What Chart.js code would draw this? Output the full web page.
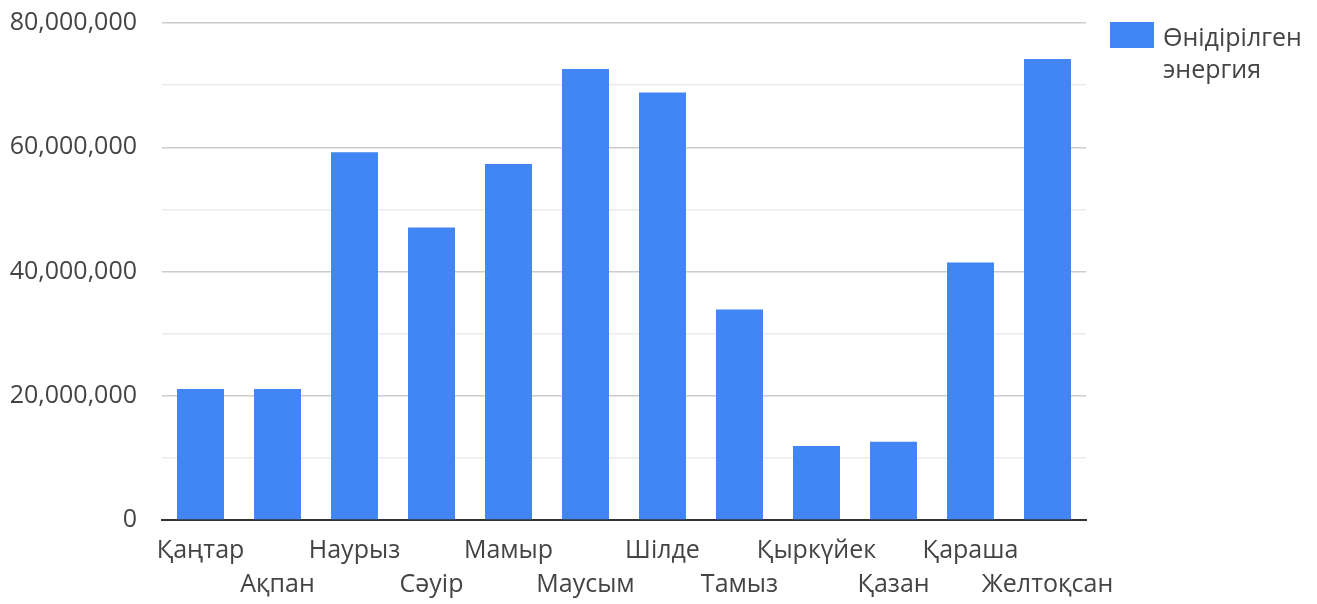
<!DOCTYPE html>
<html>
<head>
<meta charset="utf-8">
<script src="https://cdn.jsdelivr.net/npm/chart.js@4.4.0/dist/chart.umd.min.js"></script>
<style>
  html, body { margin: 0; padding: 0; background: #fff; }
  #wrap { width: 1317px; height: 604px; position: relative; }
</style>
</head>
<body>
<div id="wrap"><canvas id="c" width="1317" height="604"></canvas></div>
<script>
const months = ['Қаңтар', 'Ақпан', 'Наурыз', 'Сәуір', 'Мамыр', 'Маусым', 'Шілде', 'Тамыз', 'Қыркүйек', 'Қазан', 'Қараша', 'Желтоқсан'];
const energy = [21100000, 21100000, 59200000, 47100000, 57300000, 72600000, 68800000, 33900000, 11900000, 12600000, 41450000, 74200000];
const seriesLabel = ['Өнідірілген', 'энергия'];
const yMin = 0, yMax = 80000000, yStep = 10000000, yLabelStep = 20000000;

const FONT = '"Open Sans", "Noto Sans", sans-serif';
const TEXT = '#444';
const BLUE = '#4285F4';

// staggered two-row labels
const xLabels = months.map((m, i) => i % 2 === 0 ? [m, ''] : ['', m]);

const legendPlugin = {
  id: 'sideLegend',
  afterDraw(chart) {
    const ctx = chart.ctx;
    const area = chart.chartArea;
    const x0 = area.right + 24;
    ctx.save();
    ctx.fillStyle = chart.data.datasets[0].backgroundColor;
    ctx.fillRect(x0, 22, 44, 26);
    ctx.fillStyle = TEXT;
    ctx.font = '25px ' + FONT;
    ctx.textBaseline = 'alphabetic';
    ctx.textAlign = 'left';
    seriesLabel.forEach((t, i) => ctx.fillText(t, x0 + 53, 46 + i * 32));
    ctx.restore();
  }
};

new Chart(document.getElementById('c'), {
  type: 'bar',
  data: {
    labels: xLabels,
    datasets: [{
      label: seriesLabel.join(' '),
      data: energy,
      backgroundColor: BLUE,
      borderWidth: 0,
      barPercentage: 0.61,
      categoryPercentage: 1.0
    }]
  },
  options: {
    responsive: false,
    animation: false,
    layout: { padding: { top: 23, right: 231, bottom: 0, left: 0 } },
    plugins: { legend: { display: false }, tooltip: { enabled: false } },
    scales: {
      x: {
        grid: { display: false, drawTicks: false },
        border: { display: true, color: '#333', width: 2 },
        ticks: {
          color: TEXT,
          font: { family: FONT, size: 25, lineHeight: 1.36 },
          autoSkip: false, maxRotation: 0, minRotation: 0,
          padding: 14
        },
        afterFit(scale) { scale.height = 84; scale.paddingTop = 0; scale.paddingBottom = 0; }
      },
      y: {
        min: yMin, max: yMax,
        border: { display: false },
        grid: {
          drawTicks: false,
          color: (c) => (c.tick && c.tick.value % yLabelStep === 0) ? '#cccccc' : '#ebebeb',
          lineWidth: 1.5
        },
        ticks: {
          stepSize: yStep,
          color: TEXT,
          padding: 25,
          font: { family: FONT, size: 25 },
          callback: (v) => v % yLabelStep === 0 ? v.toLocaleString('en-US') : ''
        },
        afterFit(scale) { scale.width = 162; scale.paddingTop = 0; scale.paddingBottom = 0; }
      }
    }
  },
  plugins: [legendPlugin]
});
</script>
</body>
</html>
